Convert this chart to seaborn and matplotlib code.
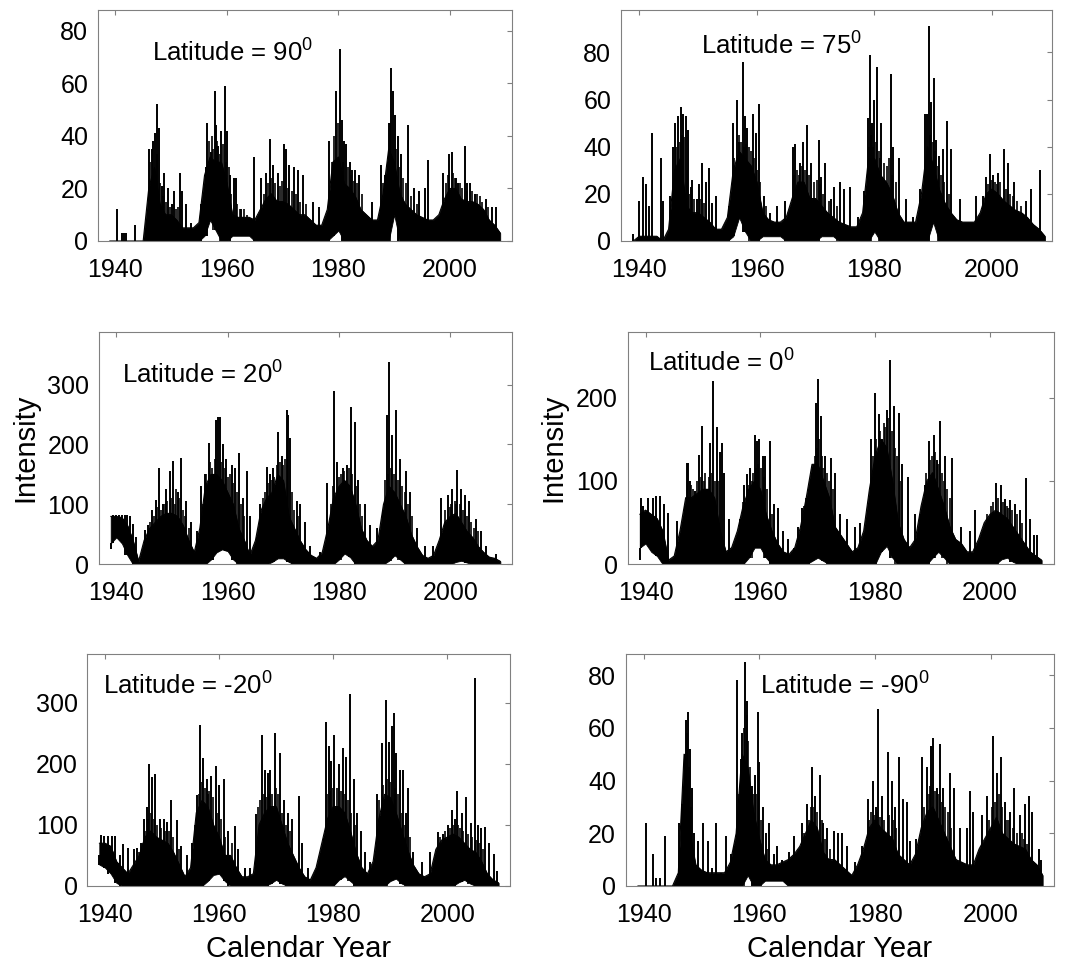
import matplotlib
matplotlib.use("Agg")
import matplotlib.pyplot as plt
import seaborn as sns

# yearly nodes shared by all panels
years = list(range(1939, 2010))

# ---- Latitude = 90 ----
top_90 = [0, 0, 0, 0, 0, 0, 0, 20, 28, 14,
          10, 10, 8, 5, 5, 5, 7, 25, 32, 30,
          30, 22, 10, 9, 9, 9, 8, 12, 16, 18,
          15, 15, 14, 12, 10, 10, 8, 6, 6, 12,
          30, 32, 22, 20, 17, 12, 10, 8, 8, 18,
          35, 30, 18, 14, 12, 10, 9, 8, 8, 10,
          16, 20, 20, 16, 15, 15, 14, 12, 8, 6,
          3]
bot_90 = [0, 0, 0, 0, 0, 0, 0, 0, 0, 0,
          0, 0, 0, 0, 0, 0, 0, 2, 8, 4,
          0, 0, 2, 2, 2, 2, 0, 0, 0, 0,
          0, 0, 0, 0, 0, 0, 0, 0, 0, 0,
          2, 4, 0, 0, 0, 0, 0, 0, 0, 0,
          0, 10, 0, 0, 0, 0, 0, 0, 0, 0,
          0, 0, 0, 0, 0, 0, 0, 0, 0, 0,
          0]
spikes_90 = [(1940.3, 12), (1941.2, 3), (1941.6, 3), (1942.0, 3), (1943.6, 6), (1945.6, 6),
             (1946.1, 35), (1946.5, 35), (1946.8, 38), (1947.2, 41), (1947.5, 52), (1947.9, 43),
             (1948.3, 21), (1948.8, 26), (1949.5, 20), (1950.1, 14), (1950.5, 19), (1951.6, 26),
             (1952.0, 19), (1952.6, 14), (1953.5, 7), (1955.4, 14), (1956.2, 28), (1956.5, 45),
             (1957.1, 34), (1957.8, 57), (1958.1, 44), (1958.5, 36), (1958.9, 42), (1959.6, 59),
             (1960.0, 42), (1960.5, 25), (1961.2, 24), (1961.6, 24), (1962.6, 12), (1964.8, 32),
             (1966.2, 24), (1967.0, 26), (1967.7, 39), (1968.3, 29), (1969.2, 26), (1970.2, 37),
             (1970.6, 35), (1971.2, 29), (1972.0, 28), (1972.8, 27), (1973.6, 25), (1975.5, 15),
             (1976.6, 13), (1978.4, 38), (1979.6, 57), (1980.2, 73), (1980.6, 46), (1981.0, 38),
             (1981.4, 37), (1982.0, 30), (1982.5, 27), (1983.0, 27), (1983.7, 25), (1986.0, 15),
             (1987.6, 29), (1988.4, 25), (1989.0, 45), (1989.5, 66), (1989.8, 57), (1990.1, 48),
             (1990.6, 40), (1991.2, 33), (1992.5, 44), (1993.5, 20), (1994.5, 19), (1995.6, 20),
             (1996.0, 31), (1998.8, 26), (1999.8, 33), (2000.3, 34), (2001.0, 24), (2001.5, 22),
             (2002.6, 36), (2003.1, 22), (2003.6, 22), (2004.5, 18), (2006.4, 16), (2007.5, 13),
             (2008.3, 13)]
extra_90 = [(1946.3, 30), (1946.9, 25), (1947.4, 33), (1948.0, 22), (1948.5, 17), (1949.1, 15),
            (1949.8, 13), (1950.8, 12), (1951.2, 13), (1956.0, 20), (1956.8, 38), (1957.3, 40),
            (1957.6, 35), (1958.3, 38), (1958.7, 33), (1959.3, 37), (1959.9, 30), (1960.3, 28),
            (1960.8, 18), (1961.9, 14), (1962.3, 12), (1963.0, 12), (1963.6, 10), (1966.6, 18),
            (1967.3, 22), (1968.0, 24), (1968.7, 22), (1969.5, 21), (1969.9, 23), (1970.9, 20),
            (1971.6, 19), (1972.4, 18), (1973.2, 15), (1974.2, 14), (1978.8, 30), (1979.2, 40),
            (1980.0, 45), (1980.9, 30), (1981.7, 28), (1982.3, 25), (1982.8, 23), (1983.4, 22),
            (1984.2, 18), (1988.0, 22), (1988.8, 30), (1989.2, 45), (1990.4, 35), (1990.9, 28),
            (1991.6, 24), (1992.1, 22), (1993.0, 17), (1994.0, 14), (1999.2, 22), (1999.6, 25),
            (2000.6, 26), (2000.9, 24), (2001.8, 22), (2002.2, 20), (2003.0, 19), (2003.9, 19),
            (2004.8, 18), (2005.3, 17), (2005.8, 15), (2006.8, 13)]

# ---- Latitude = 75 ----
top_75 = [0, 2, 2, 2, 2, 0, 5, 30, 35, 15,
          12, 12, 10, 8, 5, 5, 10, 30, 38, 35,
          32, 25, 12, 9, 8, 8, 10, 18, 25, 25,
          18, 18, 15, 12, 10, 8, 7, 6, 6, 12,
          35, 35, 28, 25, 20, 12, 8, 8, 8, 20,
          40, 32, 22, 16, 12, 9, 8, 8, 8, 12,
          20, 22, 20, 17, 15, 13, 12, 10, 7, 5,
          2]
bot_75 = [0, 0, 0, 0, 0, 0, 0, 0, 0, 0,
          0, 0, 0, 0, 0, 0, 0, 2, 10, 4,
          0, 0, 2, 2, 2, 2, 0, 0, 0, 0,
          0, 0, 2, 2, 2, 0, 0, 0, 0, 0,
          0, 4, 0, 0, 0, 0, 0, 0, 0, 0,
          0, 8, 0, 0, 0, 0, 0, 0, 0, 0,
          0, 0, 0, 0, 0, 0, 0, 0, 0, 0,
          0]
spikes_75 = [(1939.0, 3), (1940.0, 17), (1940.6, 27), (1941.2, 24), (1941.7, 15), (1942.2, 46),
             (1943.7, 35), (1944.1, 17), (1945.3, 19), (1945.7, 40), (1946.1, 50), (1946.6, 53),
             (1947.1, 57), (1947.5, 54), (1947.9, 53), (1948.3, 47), (1948.8, 23), (1949.0, 26),
             (1949.8, 18), (1950.2, 24), (1950.6, 33), (1951.4, 25), (1951.8, 31), (1952.3, 16),
             (1953.0, 19), (1954.6, 6), (1955.2, 15), (1955.9, 50), (1956.6, 60), (1957.0, 42),
             (1957.7, 76), (1958.0, 53), (1958.4, 48), (1959.4, 54), (1959.9, 46), (1960.3, 58),
             (1961.2, 19), (1962.2, 12), (1963.5, 15), (1964.8, 17), (1966.1, 40), (1966.5, 41),
             (1967.4, 33), (1967.9, 42), (1968.5, 49), (1969.3, 33), (1970.5, 43), (1971.0, 27),
             (1971.6, 33), (1972.7, 18), (1973.2, 23), (1974.1, 25), (1974.8, 22), (1975.9, 23),
             (1977.2, 10), (1978.3, 21), (1978.9, 52), (1979.2, 79), (1979.6, 50), (1980.0, 60),
             (1980.4, 74), (1981.2, 50), (1982.8, 71), (1983.2, 40), (1984.2, 35), (1985.4, 18),
             (1986.6, 10), (1987.7, 22), (1988.6, 54), (1989.0, 54), (1989.3, 91), (1989.7, 59),
             (1990.1, 69), (1990.5, 43), (1991.0, 36), (1991.7, 39), (1992.3, 51), (1993.1, 39),
             (1994.6, 18), (1997.3, 19), (1998.5, 19), (1999.0, 27), (1999.7, 37), (2000.2, 28),
             (2001.1, 29), (2002.0, 39), (2002.7, 33), (2003.8, 25), (2005.8, 17), (2006.7, 22),
             (2008.2, 30)]
extra_75 = [(1946.3, 40), (1946.9, 42), (1947.3, 45), (1947.7, 44), (1948.1, 30), (1948.5, 20),
            (1949.4, 18), (1950.4, 18), (1951.1, 16), (1956.2, 35), (1956.9, 45), (1957.3, 42),
            (1957.9, 40), (1958.2, 41), (1958.7, 40), (1959.1, 38), (1959.6, 35), (1960.0, 30),
            (1960.6, 25), (1961.5, 15), (1966.3, 28), (1966.8, 30), (1967.2, 28), (1967.7, 32),
            (1968.2, 30), (1968.8, 28), (1969.7, 25), (1970.2, 26), (1970.8, 24), (1971.3, 20),
            (1972.2, 17), (1973.6, 15), (1979.0, 40), (1979.4, 45), (1979.8, 40), (1980.2, 42),
            (1980.7, 38), (1981.0, 35), (1981.6, 33), (1982.2, 32), (1982.5, 35), (1983.0, 28),
            (1983.6, 25), (1988.9, 38), (1989.5, 45), (1989.9, 42), (1990.3, 38), (1990.8, 32),
            (1991.3, 28), (1991.9, 25), (1992.7, 20), (1999.3, 24), (1999.9, 26), (2000.5, 25),
            (2000.9, 24), (2001.4, 25), (2002.3, 22), (2003.0, 20), (2003.5, 19), (2004.3, 17),
            (2005.0, 15)]

# ---- Latitude = 20 ----
top_20 = [80, 80, 78, 65, 40, 5, 40, 60, 70, 80,
          85, 85, 80, 65, 40, 20, 60, 130, 150, 150,
          140, 120, 100, 60, 40, 15, 40, 90, 110, 120,
          150, 140, 80, 60, 40, 25, 15, 10, 20, 60,
          110, 130, 140, 130, 100, 60, 40, 30, 40, 100,
          130, 120, 100, 80, 50, 30, 15, 10, 15, 40,
          70, 80, 85, 70, 55, 45, 30, 20, 12, 10,
          5]
bot_20 = [35, 45, 35, 15, 0, 0, 0, 0, 0, 0,
          0, 0, 0, 0, 0, 0, 0, 0, 8, 20,
          25, 22, 8, 0, 0, 0, 0, 0, 0, 4,
          10, 10, 4, 0, 0, 0, 0, 0, 0, 0,
          0, 8, 18, 12, 0, 0, 0, 0, 0, 0,
          6, 15, 8, 0, 0, 0, 0, 0, 0, 0,
          0, 0, 4, 6, 3, 0, 0, 0, 0, 0,
          0]
spikes_20 = [(1939.1, 25), (1939.4, 83), (1940.0, 82), (1940.5, 82), (1941.0, 82), (1941.5, 82),
             (1942.0, 82), (1942.5, 80), (1943.0, 68), (1943.5, 45), (1945.1, 57), (1945.7, 65),
             (1946.5, 90), (1947.1, 108), (1947.7, 161), (1948.4, 100), (1948.9, 125), (1949.6, 156),
             (1950.2, 172), (1951.0, 120), (1951.7, 177), (1952.6, 105), (1953.5, 70), (1954.5, 55),
             (1955.3, 130), (1955.9, 150), (1956.6, 202), (1957.4, 140), (1957.9, 240), (1958.3, 245),
             (1958.6, 246), (1959.2, 200), (1959.8, 175), (1960.7, 165), (1961.3, 160), (1962.0, 185),
             (1962.8, 110), (1963.4, 155), (1964.0, 80), (1965.2, 45), (1965.9, 100), (1967.0, 163),
             (1967.6, 150), (1968.1, 160), (1969.1, 220), (1969.7, 180), (1970.6, 258), (1970.9, 250),
             (1971.2, 210), (1972.4, 105), (1973.0, 100), (1973.9, 70), (1974.8, 30), (1976.6, 20),
             (1977.8, 135), (1979.2, 289), (1979.6, 170), (1980.8, 160), (1981.4, 165), (1982.1, 262),
             (1982.8, 237), (1983.5, 140), (1984.7, 100), (1985.6, 65), (1986.8, 60), (1988.0, 90),
             (1988.6, 250), (1989.0, 338), (1989.6, 215), (1990.2, 258), (1991.0, 175), (1992.0, 155),
             (1992.8, 120), (1994.0, 60), (1995.5, 30), (1996.9, 30), (1998.4, 110), (1999.6, 115),
             (2000.4, 125), (2001.3, 157), (2002.0, 125), (2002.6, 115), (2003.4, 105), (2004.7, 75),
             (2005.6, 55), (2006.5, 30), (2008.3, 18)]
extra_20 = [(1946.0, 70), (1946.8, 80), (1947.4, 95), (1948.0, 90), (1948.7, 100), (1949.2, 105),
            (1949.9, 110), (1950.5, 100), (1950.8, 125), (1951.3, 110), (1952.0, 90), (1952.3, 80),
            (1953.0, 60), (1955.6, 100), (1956.2, 150), (1956.9, 170), (1957.2, 160), (1957.7, 175),
            (1958.9, 170), (1959.5, 160), (1960.1, 145), (1960.4, 150), (1961.0, 135), (1961.7, 120),
            (1962.4, 100), (1963.0, 80), (1966.3, 110), (1966.7, 120), (1967.3, 135), (1967.9, 140),
            (1968.4, 145), (1968.8, 165), (1969.4, 170), (1970.0, 165), (1970.3, 175), (1971.5, 120),
            (1971.9, 90), (1972.7, 80), (1978.5, 100), (1979.0, 130), (1980.0, 145), (1980.4, 150),
            (1981.0, 155), (1981.8, 160), (1982.4, 150), (1983.1, 130), (1983.8, 100), (1984.2, 80),
            (1988.3, 140), (1988.8, 150), (1989.3, 160), (1989.9, 150), (1990.6, 140), (1991.4, 130),
            (1991.8, 120), (1992.4, 100), (1993.2, 80), (1999.0, 90), (1999.9, 95), (2000.1, 100),
            (2000.8, 105), (2001.0, 100), (2001.7, 100), (2002.3, 90), (2003.0, 80), (2003.8, 70),
            (2004.3, 60), (2005.0, 55)]

# ---- Latitude = 0 ----
top_0 = [60, 65, 60, 55, 40, 5, 10, 40, 80, 80,
         85, 90, 90, 80, 40, 15, 20, 40, 70, 90,
         100, 90, 60, 40, 25, 15, 12, 20, 45, 80,
         120, 120, 100, 80, 45, 35, 25, 15, 20, 40,
         90, 130, 150, 140, 100, 50, 30, 20, 30, 70,
         100, 110, 90, 70, 45, 30, 25, 15, 15, 30,
         50, 60, 65, 60, 55, 45, 35, 25, 15, 10,
         5]
bot_0 = [20, 25, 15, 10, 0, 0, 0, 0, 0, 0,
         0, 0, 0, 0, 0, 0, 0, 0, 0, 8,
         20, 20, 8, 0, 0, 0, 0, 0, 0, 0,
         4, 8, 4, 0, 0, 0, 0, 0, 0, 0,
         0, 0, 15, 22, 8, 0, 0, 0, 0, 0,
         0, 8, 15, 8, 0, 0, 0, 0, 0, 0,
         0, 0, 0, 6, 8, 3, 0, 0, 0, 0,
         0]
spikes_0 = [(1939.0, 5), (1939.2, 80), (1939.6, 70), (1940.5, 80), (1941.3, 80), (1941.8, 82),
            (1942.5, 82), (1943.2, 72), (1944.0, 62), (1945.5, 52), (1947.2, 121), (1947.4, 122),
            (1947.7, 100), (1948.6, 88), (1949.3, 131), (1949.8, 166), (1950.7, 90), (1951.3, 145),
            (1951.8, 220), (1952.4, 165), (1953.0, 135), (1953.3, 145), (1953.7, 110), (1954.6, 55),
            (1956.5, 55), (1957.2, 95), (1957.6, 108), (1958.2, 115), (1959.0, 155), (1959.4, 148),
            (1959.8, 150), (1960.5, 130), (1960.9, 130), (1961.6, 148), (1962.3, 72), (1963.0, 68),
            (1964.0, 40), (1964.9, 30), (1965.8, 20), (1966.6, 45), (1967.2, 68), (1968.4, 90),
            (1969.2, 110), (1969.7, 193), (1970.1, 222), (1970.5, 178), (1971.3, 130), (1972.3, 128),
            (1973.0, 110), (1973.9, 60), (1975.1, 55), (1976.5, 45), (1977.4, 50), (1978.5, 40),
            (1979.3, 150), (1979.9, 205), (1980.6, 180), (1981.2, 150), (1982.0, 185), (1982.6, 245),
            (1983.2, 190), (1984.1, 182), (1984.7, 120), (1985.8, 105), (1986.9, 60), (1987.8, 60),
            (1988.7, 95), (1989.3, 148), (1990.2, 155), (1990.8, 125), (1991.3, 172), (1992.2, 130),
            (1993.4, 128), (1994.9, 45), (1996.6, 40), (1997.4, 65), (1999.8, 55), (2001.1, 98),
            (2001.9, 95), (2002.6, 78), (2003.5, 77), (2004.4, 72), (2005.3, 65), (2006.3, 103),
            (2006.9, 55), (2007.6, 35), (2008.2, 35)]
extra_0 = [(1946.8, 70), (1947.9, 95), (1948.2, 90), (1948.9, 100), (1949.6, 105), (1950.2, 100),
           (1950.4, 110), (1951.0, 105), (1951.6, 110), (1952.1, 100), (1952.7, 100), (1957.0, 75),
           (1957.8, 95), (1958.5, 100), (1958.8, 110), (1959.2, 115), (1959.6, 120), (1960.2, 115),
           (1960.7, 105), (1961.2, 90), (1962.0, 60), (1967.6, 70), (1968.0, 80), (1968.8, 100),
           (1969.5, 130), (1969.9, 140), (1970.3, 150), (1970.8, 130), (1971.0, 115), (1971.7, 110),
           (1972.0, 100), (1972.6, 90), (1979.6, 130), (1980.2, 150), (1980.9, 160), (1981.5, 170),
           (1981.8, 165), (1982.3, 175), (1982.9, 160), (1983.5, 140), (1983.8, 130), (1984.4, 100),
           (1988.9, 110), (1989.6, 125), (1989.9, 130), (1990.5, 135), (1991.0, 120), (1991.6, 110),
           (1992.0, 100), (1992.6, 90), (1993.0, 80), (1999.5, 60), (2000.2, 70), (2000.6, 75),
           (2001.4, 80), (2002.2, 75), (2002.9, 70), (2003.2, 68), (2003.8, 65), (2004.7, 60),
           (2005.6, 50)]

# ---- Latitude = -20 ----
top_m20 = [70, 70, 65, 40, 30, 20, 35, 50, 80, 90,
           80, 75, 70, 55, 35, 15, 30, 120, 140, 130,
           100, 80, 50, 50, 30, 15, 15, 20, 100, 120,
           130, 130, 100, 70, 50, 30, 15, 10, 30, 70,
           110, 130, 130, 120, 90, 55, 30, 20, 40, 110,
           150, 145, 120, 90, 60, 35, 20, 15, 20, 60,
           75, 80, 85, 80, 70, 60, 55, 40, 20, 10,
           5]
bot_m20 = [35, 30, 20, 5, 0, 0, 0, 0, 0, 0,
           0, 0, 0, 0, 0, 0, 0, 0, 0, 8,
           18, 20, 8, 0, 0, 0, 0, 0, 0, 0,
           4, 10, 4, 0, 0, 0, 0, 0, 0, 0,
           0, 0, 10, 16, 8, 0, 0, 0, 0, 0,
           0, 8, 12, 4, 0, 0, 0, 0, 0, 0,
           0, 0, 0, 6, 10, 4, 0, 0, 0, 0,
           0]
spikes_m20 = [(1939.0, 50), (1939.3, 83), (1939.9, 82), (1940.6, 82), (1941.2, 82), (1941.7, 82),
              (1942.6, 50), (1943.2, 68), (1944.0, 62), (1945.0, 60), (1945.6, 62), (1946.3, 70),
              (1946.8, 110), (1947.3, 130), (1947.7, 199), (1948.2, 178), (1948.8, 184), (1949.6, 110),
              (1950.3, 110), (1950.9, 105), (1951.6, 140), (1952.6, 108), (1953.3, 65), (1954.3, 50),
              (1955.3, 70), (1956.1, 149), (1956.7, 263), (1957.2, 210), (1957.9, 175), (1958.6, 180),
              (1959.4, 196), (1959.9, 165), (1960.8, 175), (1961.5, 90), (1962.8, 98), (1963.4, 60),
              (1964.5, 30), (1965.5, 30), (1966.4, 118), (1967.5, 248), (1968.0, 190), (1968.5, 185),
              (1969.0, 190), (1969.8, 250), (1970.6, 218), (1971.3, 140), (1972.0, 120), (1972.7, 110),
              (1974.0, 147), (1974.6, 70), (1975.5, 30), (1977.0, 25), (1978.0, 60), (1978.4, 78),
              (1978.8, 268), (1979.3, 230), (1979.7, 205), (1980.2, 248), (1981.0, 200), (1981.8, 226),
              (1982.2, 212), (1982.9, 315), (1983.6, 175), (1984.2, 120), (1984.8, 90), (1985.5, 55),
              (1986.5, 40), (1987.7, 150), (1988.5, 234), (1989.2, 305), (1989.7, 235), (1990.3, 262),
              (1990.6, 284), (1991.0, 218), (1991.8, 190), (1992.3, 190), (1992.8, 120), (1993.1, 160),
              (1994.0, 55), (1995.5, 40), (1997.0, 55), (1998.4, 88), (1999.3, 85), (2000.1, 100),
              (2000.8, 125), (2001.3, 110), (2001.7, 155), (2002.5, 120), (2003.2, 145), (2004.1, 103),
              (2004.8, 340), (2005.4, 100), (2006.0, 95), (2006.6, 96), (2007.3, 70), (2008.2, 52),
              (2008.8, 25)]
extra_m20 = [(1946.0, 55), (1946.6, 70), (1947.0, 90), (1947.5, 110), (1948.0, 120), (1948.5, 110),
             (1949.2, 100), (1949.9, 95), (1950.6, 90), (1951.2, 90), (1952.0, 80), (1952.9, 60),
             (1955.8, 100), (1956.4, 150), (1957.0, 170), (1957.5, 160), (1958.0, 150), (1958.3, 155),
             (1958.9, 145), (1959.7, 120), (1960.3, 110), (1961.0, 80), (1962.3, 70), (1966.8, 130),
             (1967.2, 140), (1967.8, 150), (1968.3, 145), (1968.8, 150), (1969.3, 150), (1970.0, 160),
             (1970.3, 150), (1971.0, 120), (1971.7, 100), (1972.4, 90), (1979.0, 150), (1979.5, 155),
             (1980.0, 160), (1980.6, 160), (1981.3, 155), (1982.0, 150), (1982.6, 140), (1983.2, 120),
             (1983.9, 100), (1988.0, 140), (1988.8, 165), (1989.4, 175), (1990.0, 170), (1990.9, 160),
             (1991.4, 150), (1992.0, 120), (1992.6, 100), (1993.5, 80), (1998.8, 80), (1999.6, 90),
             (2000.4, 95), (2001.0, 100), (2001.9, 100), (2002.2, 95), (2002.8, 90), (2003.6, 85),
             (2004.4, 80), (2005.1, 75), (2005.8, 70), (2006.3, 60)]

# ---- Latitude = -90 ----
top_m90 = [0, 0, 0, 0, 0, 0, 0, 5, 50, 20,
           8, 6, 5, 5, 5, 5, 9, 20, 50, 45,
           28, 18, 10, 8, 8, 9, 10, 12, 15, 20,
           25, 22, 13, 10, 10, 8, 6, 4, 8, 14,
           22, 25, 22, 20, 18, 12, 10, 8, 12, 22,
           28, 30, 25, 20, 15, 10, 9, 8, 8, 14,
           18, 22, 26, 20, 18, 16, 15, 14, 10, 8,
           4]
bot_m90 = [0, 0, 0, 0, 0, 0, 0, 0, 0, 0,
           0, 0, 0, 0, 0, 0, 0, 0, 0, 4,
           0, 0, 2, 2, 2, 2, 0, 0, 0, 0,
           0, 0, 0, 0, 0, 0, 0, 0, 0, 0,
           0, 0, 0, 0, 0, 0, 0, 0, 0, 0,
           0, 0, 0, 0, 0, 0, 0, 0, 0, 0,
           0, 0, 0, 0, 0, 0, 0, 0, 0, 0,
           0]
spikes_m90 = [(1940.4, 24), (1941.7, 12), (1942.2, 3), (1942.8, 3), (1943.7, 19), (1946.1, 24),
              (1946.7, 31), (1947.1, 40), (1947.4, 63), (1947.7, 66), (1948.0, 52), (1948.3, 37),
              (1948.7, 20), (1949.4, 17), (1950.2, 24), (1951.1, 17), (1951.9, 7), (1952.6, 24),
              (1953.3, 5), (1954.2, 19), (1955.1, 12), (1955.6, 15), (1956.2, 78), (1956.8, 48),
              (1957.1, 58), (1957.6, 85), (1957.9, 70), (1958.8, 38), (1959.2, 42), (1959.7, 66),
              (1960.0, 47), (1960.6, 30), (1961.1, 20), (1961.7, 24), (1962.5, 12), (1963.1, 15),
              (1964.0, 10), (1965.1, 13), (1966.0, 19), (1967.4, 24), (1968.3, 31), (1969.1, 45),
              (1969.7, 34), (1970.5, 42), (1971.0, 24), (1971.7, 22), (1972.9, 21), (1973.7, 20),
              (1974.3, 20), (1975.2, 15), (1976.6, 9), (1977.8, 15), (1978.8, 33), (1979.6, 40),
              (1980.1, 30), (1980.6, 67), (1981.2, 34), (1982.2, 51), (1982.9, 40), (1983.4, 30),
              (1984.1, 49), (1984.8, 33), (1985.5, 32), (1986.1, 17), (1987.1, 18), (1988.1, 49),
              (1989.0, 45), (1989.7, 53), (1990.1, 56), (1990.7, 37), (1991.3, 54), (1991.8, 37),
              (1992.9, 43), (1993.6, 37), (1994.7, 22), (1995.9, 22), (1996.4, 36), (1997.0, 28),
              (1998.5, 27), (1999.4, 34), (2000.4, 57), (2001.1, 43), (2001.8, 49), (2002.5, 32),
              (2003.4, 28), (2004.1, 37), (2005.0, 27), (2006.0, 31), (2006.6, 34), (2007.2, 28),
              (2008.3, 14), (2008.8, 10)]
extra_m90 = [(1946.9, 35), (1947.2, 50), (1947.5, 58), (1947.9, 45), (1948.2, 30), (1956.5, 35),
             (1956.9, 40), (1957.3, 60), (1957.8, 65), (1958.1, 55), (1958.4, 45), (1959.0, 35),
             (1959.5, 35), (1960.3, 25), (1961.4, 14), (1967.8, 20), (1968.6, 25), (1968.9, 30),
             (1969.4, 30), (1970.0, 28), (1970.8, 25), (1971.4, 18), (1972.3, 14), (1979.0, 25),
             (1979.3, 28), (1979.9, 27), (1980.4, 28), (1980.9, 26), (1981.6, 25), (1982.5, 27),
             (1983.1, 25), (1983.7, 22), (1988.5, 30), (1989.3, 35), (1989.6, 38), (1990.4, 36),
             (1990.9, 35), (1991.6, 32), (1992.2, 30), (1992.6, 28), (1993.2, 22), (1999.8, 25),
             (2000.2, 30), (2000.8, 32), (2001.4, 35), (2002.0, 30), (2002.8, 25), (2003.2, 25),
             (2003.8, 22), (2004.5, 20), (2005.4, 20), (2005.7, 18), (2006.3, 16)]

lat_labels = ["90", "75", "20", "0", "-20", "-90"]

sns.set_theme(style="white")
plt.rcParams['font.family'] = ['Liberation Sans', 'DejaVu Sans']
plt.rcParams['mathtext.fontset'] = 'custom'
plt.rcParams['mathtext.rm'] = 'Liberation Sans'
plt.rcParams['mathtext.it'] = 'Liberation Sans'
plt.rcParams['text.color'] = 'black'
plt.rcParams['axes.labelcolor'] = 'black'

fig = plt.figure(figsize=(10.73, 9.69), dpi=100)

# (rect, ymax, yticks, text pos in axes fraction, xmax)
layout = [
    ([0.0913, 0.7513, 0.3858, 0.2384], 88, [0, 20, 40, 60, 80], (0.130, 0.775), 2011.1),
    ([0.5787, 0.7513, 0.4017, 0.2384], 98, [0, 20, 40, 60, 80], (0.186, 0.805), 2010.2),
    ([0.0923, 0.4176, 0.3849, 0.2400], 388, [0, 100, 200, 300], (0.055, 0.778), 2011.1),
    ([0.5850, 0.4176, 0.3970, 0.2400], 279, [0, 100, 200], (0.048, 0.828), 2011.1),
    ([0.0814, 0.0857, 0.3939, 0.2394], 380, [0, 100, 200, 300], (0.038, 0.826), 2011.0),
    ([0.5831, 0.0857, 0.3994, 0.2394], 88, [0, 20, 40, 60, 80], (0.313, 0.826), 2011.0),
]
series = [(top_90, bot_90, spikes_90, extra_90), (top_75, bot_75, spikes_75, extra_75),
          (top_20, bot_20, spikes_20, extra_20), (top_0, bot_0, spikes_0, extra_0),
          (top_m20, bot_m20, spikes_m20, extra_m20), (top_m90, bot_m90, spikes_m90, extra_m90)]

spine_col = '#808080'
for i, ((rect, ymax, yticks, tpos, xmax), (top, bot, spikes, extra)) in enumerate(zip(layout, series)):
    ax = fig.add_axes(rect)
    # dense band of the daily series
    ax.fill_between(years, bot, top, color='black', lw=0.6, edgecolor='black')
    sns.lineplot(x=years, y=top, color='black', lw=0.8, ax=ax)
    # individual spikes above the band
    for pts, lw in ((extra, 1.2), (spikes, 1.4)):
        sx = [s[0] for s in pts]
        sy = [s[1] for s in pts]
        base = [bot[min(max(int(round(x)) - 1939, 0), len(bot) - 1)] for x in sx]
        ax.vlines(sx, base, sy, colors='black', lw=lw)

    ax.set_xlim(1936.9, xmax)
    ax.set_ylim(0, ymax)
    ax.set_xticks([1940, 1960, 1980, 2000])
    ax.set_yticks(yticks)
    ax.tick_params(axis='both', direction='in', top=True, right=True, length=3.6,
                   width=0.8, color=spine_col, labelsize=18, labelcolor='black')
    ax.tick_params(axis='x', pad=12)
    ax.tick_params(axis='y', pad=7)
    for sp in ax.spines.values():
        sp.set_color(spine_col)
        sp.set_linewidth(0.8)
    ax.set_xlabel("")
    ax.set_ylabel("")
    ax.text(tpos[0], tpos[1], f"Latitude = {lat_labels[i]}$^0$", transform=ax.transAxes,
            fontsize=18.5, va='baseline', ha='left', color='black')
    if i in (2, 3):
        ax.set_ylabel("Intensity", fontsize=21, labelpad=6)
    if i in (4, 5):
        ax.set_xlabel("Calendar Year", fontsize=21, labelpad=6)

fig.savefig("out.png", dpi=100, facecolor='white')
